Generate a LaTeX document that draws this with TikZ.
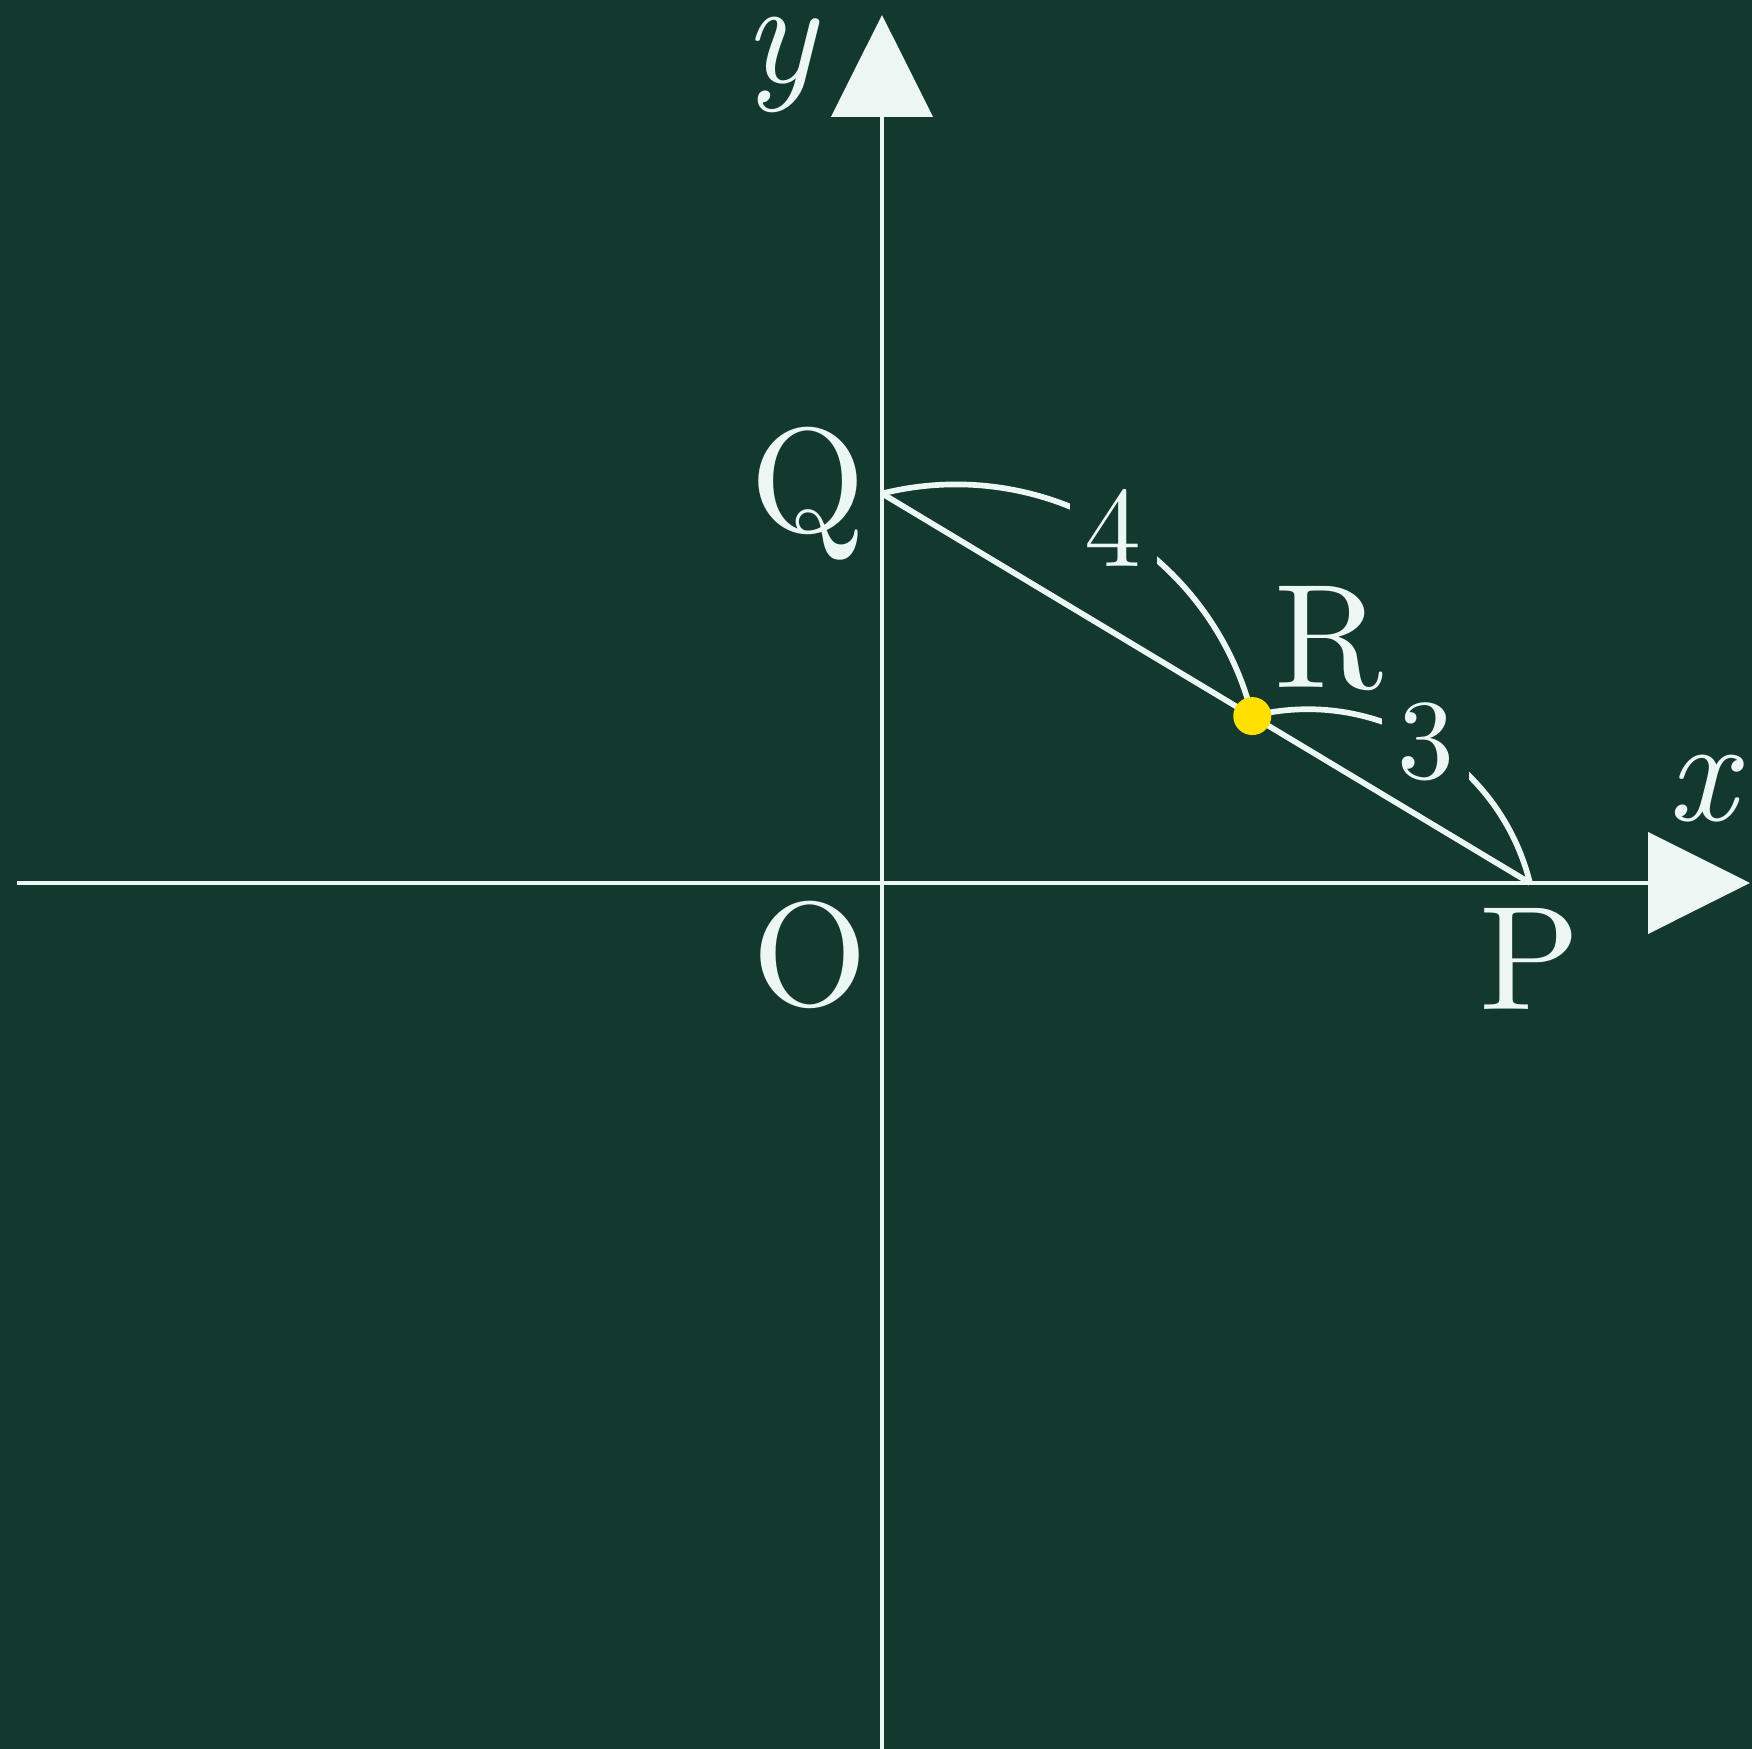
\documentclass[tikz,border=0pt]{standalone}
\usepackage{fontspec}
\setmainfont{lmroman10-regular.otf}[ItalicFont=lmroman10-italic.otf]
\usetikzlibrary{arrows.meta}
\definecolor{bgc}{RGB}{19,57,47}
\definecolor{fgc}{RGB}{236,247,243}
\definecolor{dotc}{RGB}{255,224,0}
\begin{document}
\begin{tikzpicture}[x=1cm,y=1cm,
  axis/.style={draw=fgc, line width=1.15pt, -{Triangle[length=0.944cm,width=0.935cm]}},
  seg/.style={draw=fgc, line width=1.5pt},
  dimarc/.style={draw=fgc, line width=1.5pt},
  lbl/.style={text=fgc, font=\fontsize{39}{47}\selectfont, inner sep=0pt, anchor=base},
  num/.style={text=fgc, font=\fontsize{30}{36}\selectfont, fill=bgc, inner sep=4pt},
]
\fill[bgc] (-8.167,-8.019) rectangle (8.056,8.176);
\useasboundingbox (-8.167,-8.019) rectangle (8.056,8.176);
\coordinate (O) at (0,0);
\coordinate (P) at (6,0);
\coordinate (Q) at (0,3.606);
\coordinate (R) at (3.4286,1.5454);
\coordinate (xl) at (-8.01,0);
\coordinate (xr) at (8.037,0);
\coordinate (yb) at (0,-8.03);
\coordinate (yt) at (0,8.037);
\draw[axis] (xl) -- (xr);
\draw[axis] (yb) -- (yt);
\draw[dimarc] (Q) to[bend left=45] node[num] (n4) {4} (R);
\draw[dimarc] (R) to[bend left=45] node[num] (n3) {3} (P);
\draw[seg] (Q) -- (P);
\fill[dotc] (R) circle (0.176);
\node[lbl] (ylab) at (-0.95,7.41) {\itshape y};
\node[lbl] (xlab) at (7.59,0.583) {\itshape x};
\node[lbl] (Qlab) at (-0.685,3.25) {Q};
\node[lbl] (Rlab) at (4.139,1.806) {R};
\node[lbl] (Plab) at (6.0,-1.176) {P};
\node[lbl] (Olab) at (-0.667,-1.13) {O};
\end{tikzpicture}
\end{document}
